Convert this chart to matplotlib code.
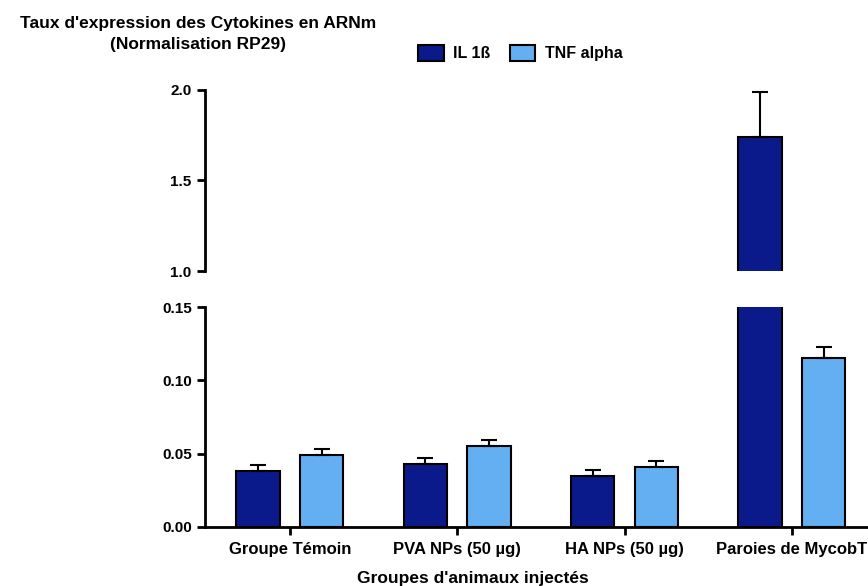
import numpy as np
import matplotlib.pyplot as plt

plt.rcParams['font.family'] = ['Liberation Sans', 'DejaVu Sans']
plt.rcParams['font.weight'] = 'bold'

# données
groupes = ['Groupe Témoin', 'PVA NPs (50 µg)', 'HA NPs (50 µg)', 'Paroies de MycobT']
il1b = [0.038, 0.043, 0.035, 1.74]
il1b_err = [0.004, 0.004, 0.004, 0.25]
tnf = [0.049, 0.055, 0.041, 0.115]
tnf_err = [0.004, 0.004, 0.004, 0.008]

col_il = '#0a1a8a'
col_tnf = '#64aef2'

fig = plt.figure(figsize=(8.68, 5.86), dpi=100)
ax_haut = fig.add_axes([0.236, 0.5375, 0.764, 0.309])
ax_bas = fig.add_axes([0.236, 0.1007, 0.764, 0.3753])

x = np.arange(len(groupes))
w = 0.26
dx = 0.19
zeros = np.zeros(len(groupes))

# même tracé dans les deux axes -> axe coupé
for ax in (ax_haut, ax_bas):
    ax.bar(x - dx, il1b, w, yerr=[zeros, il1b_err], color=col_il, edgecolor='black', linewidth=1.5,
           error_kw=dict(ecolor='black', elinewidth=1.5, capsize=6, capthick=1.5),
           label='IL 1ß')
    ax.bar(x + dx, tnf, w, yerr=[zeros, tnf_err], color=col_tnf, edgecolor='black', linewidth=1.5,
           error_kw=dict(ecolor='black', elinewidth=1.5, capsize=6, capthick=1.5),
           label='TNF alpha')
    ax.set_xlim(-0.508, 3.455)
    for s in ['top', 'right']:
        ax.spines[s].set_visible(False)
    ax.spines['left'].set_linewidth(2)
    ax.tick_params(axis='y', direction='out', length=6, width=2, labelsize=11)

ax_haut.set_ylim(1.0, 2.0)
ax_haut.set_yticks([1.0, 1.5, 2.0])
ax_haut.set_yticklabels(['1.0', '1.5', '2.0'])
ax_haut.spines['bottom'].set_visible(False)
ax_haut.set_xticks([])

ax_bas.set_ylim(0, 0.15)
ax_bas.set_yticks([0.0, 0.05, 0.10, 0.15])
ax_bas.set_yticklabels(['0.00', '0.05', '0.10', '0.15'])
ax_bas.spines['bottom'].set_linewidth(2)
ax_bas.set_xticks(x)
ax_bas.set_xticklabels(groupes, fontsize=12)
ax_bas.tick_params(axis='x', direction='out', length=6, width=2, pad=5)

fig.text(0.545, 0.013, "Groupes d'animaux injectés", ha='center', va='center',
         fontsize=12.5, fontweight='bold')

fig.text(0.228, 0.942, "Taux d'expression des Cytokines en ARNm\n(Normalisation RP29)",
         ha='center', va='center', fontsize=12.5, fontweight='bold', linespacing=1.45)

h, l = ax_bas.get_legend_handles_labels()
fig.legend(h, l, loc='center left', bbox_to_anchor=(0.465, 0.909), ncol=2, frameon=False,
           fontsize=11.5, handlelength=1.6, handleheight=1.1, columnspacing=1.2, handletextpad=0.6)

plt.savefig('out.png', dpi=100)
